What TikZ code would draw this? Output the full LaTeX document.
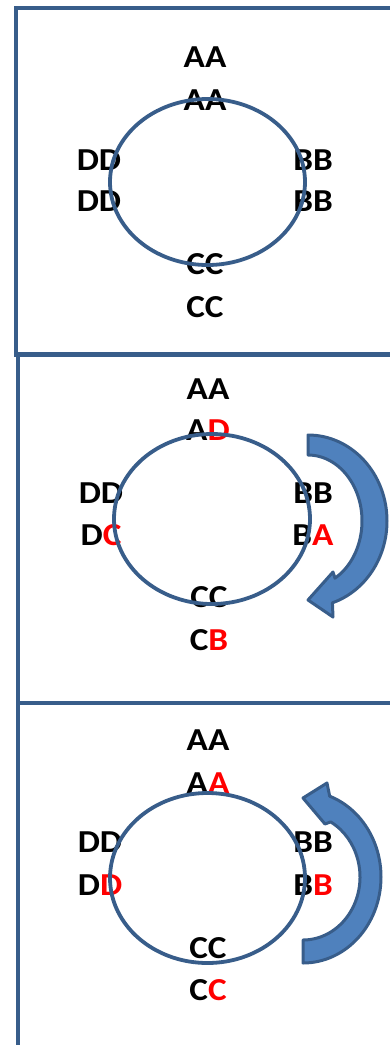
\documentclass[tikz,border=0pt]{standalone}
\usepackage{fontspec}
\setmainfont{Carlito}
\usepackage{tikz}

\definecolor{frameblue}{RGB}{56,93,138}
\definecolor{fillblue}{RGB}{79,129,189}
\tikzset{
  panel/.style={draw=frameblue, line width=3.6pt},
  ring/.style={draw=frameblue, line width=3.8pt},
  lbl/.style={font=\fontsize{32}{32}\selectfont\bfseries, inner sep=0pt, xscale=1.1},
  turn/.style={fill=fillblue, draw=frameblue, line width=3pt, line join=round},
}
\newcommand{\rd}[1]{\textcolor{red}{#1}}

\begin{document}
\begin{tikzpicture}[x=1pt, y=1pt]
    \useasboundingbox (0,0) rectangle (390,-1045);
    \draw[panel] (16,-8) rectangle (410,-355);
    \draw[panel] (18,-354) rectangle (410,-703);
    \draw[panel] (18,-703) rectangle (410,-1070);

    % start
    \node[lbl] (a1) at (205,-57) {AA};
    \node[lbl] (a1b) at (205,-100) {AA};
    \node[lbl] (d1) at (99,-160) {DD};
    \node[lbl] (d1b) at (99,-201) {DD};
    \node[lbl] (b1) at (313,-160) {BB};
    \node[lbl] (b1b) at (313,-201) {BB};
    \node[lbl] (c1) at (205,-264) {CC};
    \node[lbl] (c1b) at (205,-307) {CC};
    \draw[ring] (207.5,-182) ellipse [x radius=97.5, y radius=83];

    % clockwise
    \node[lbl] (a2) at (208,-389) {AA};
    \node[lbl] (a2b) at (208,-430) {A\rd{D}};
    \node[lbl] (d2) at (101,-493) {DD};
    \node[lbl] (d2b) at (101,-535) {D\rd{C}};
    \node[lbl] (b2) at (313,-493) {BB};
    \node[lbl] (b2b) at (313,-535) {B\rd{A}};
    \node[lbl] (c2) at (209,-597) {CC};
    \node[lbl] (c2b) at (209,-640) {C\rd{B}};
    \draw[ring] (212,-519) ellipse [x radius=98, y radius=85];
    \draw[turn] (308,-435) arc[start angle=90, end angle=-72, x radius=79, y radius=86]
        -- (333,-617) -- (308,-600) -- (333,-572)
        -- ([shift={(308,-521)}]-60:54 and 66)
        arc[start angle=-60, end angle=90, x radius=54, y radius=66] -- cycle;

    % counter-clockwise
    \node[lbl] (a3) at (208,-740) {AA};
    \node[lbl] (a3b) at (208,-783) {A\rd{A}};
    \node[lbl] (d3) at (100,-842) {DD};
    \node[lbl] (d3b) at (100,-885) {D\rd{D}};
    \node[lbl] (b3) at (313,-842) {BB};
    \node[lbl] (b3b) at (313,-885) {B\rd{B}};
    \node[lbl] (c3) at (208,-948) {CC};
    \node[lbl] (c3b) at (208,-990) {C\rd{C}};
    \draw[ring] (207.5,-878) ellipse [x radius=97.5, y radius=85];
    \draw[turn] (303,-963) arc[start angle=-90, end angle=70, x radius=78, y radius=86]
        -- (327,-783) -- (303,-798) -- (325,-824)
        -- ([shift={(303,-877)}]61:57 and 63)
        arc[start angle=61, end angle=-90, x radius=57, y radius=63] -- cycle;
\end{tikzpicture}
\end{document}
